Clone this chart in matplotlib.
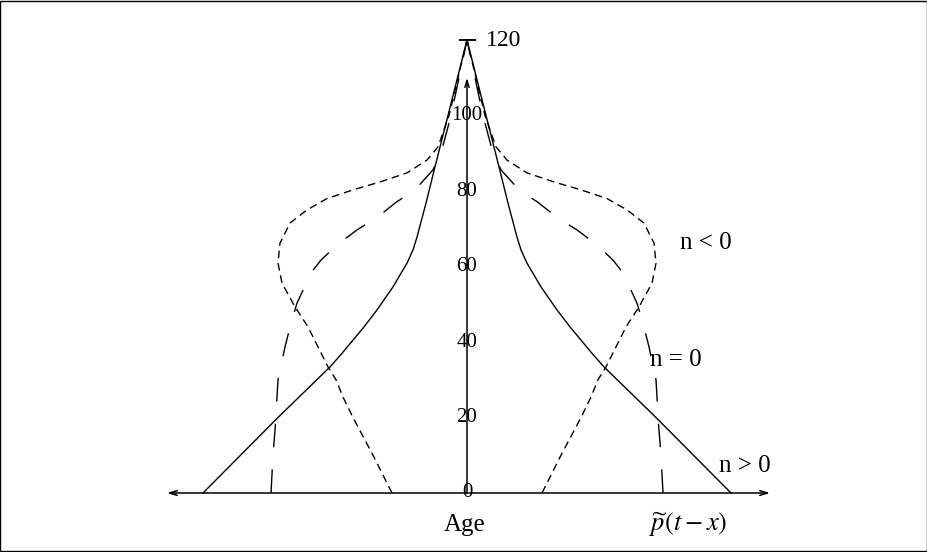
import matplotlib
matplotlib.use("Agg")
import matplotlib.pyplot as plt
from matplotlib.patches import Rectangle

plt.rcParams['font.family'] = ['Liberation Serif', 'DejaVu Serif']
plt.rcParams['mathtext.fontset'] = 'stix'

# curvas: idade -> densidade (unidades arbitrarias, metade direita)
ages_pos = [0, 20, 33.4, 37, 40.5, 44, 48.5, 54.6, 60.9, 64.4, 67.8, 76.8, 86.4, 100, 120]
dens_pos = [264, 189, 137, 125, 114, 103, 90, 74, 60, 54, 50, 41, 32, 19, 0]

ages_zero = [0, 10, 20, 25.4, 30, 38.7, 45, 50.3, 56, 59, 61.7, 65.7, 69.7, 73, 77, 80.3, 85.6, 91, 100, 110, 120]
dens_zero = [196, 194, 191, 190, 189, 182, 176, 170, 160, 154, 146, 130, 110, 90, 71, 52, 34, 25, 16, 8, 0]

ages_neg = [0, 10, 20, 25.4, 30, 33.4, 44, 49.3, 55.6, 60.9, 66.2, 71.5, 75, 78, 80.3, 82.4, 84.8, 88.2, 91.7, 100, 110, 120]
dens_neg = [75, 94, 114, 124, 131, 139, 159, 172, 185, 189, 187, 177, 160, 140, 114, 87, 60, 40, 29, 18, 9, 0]

age_ticks = [0, 20, 40, 60, 80, 100]
curve_labels = ["n < 0", "n = 0", "n > 0"]

fig = plt.figure(figsize=(9.28, 5.52), dpi=100)
ax = fig.add_axes([0, 0, 1, 1])
ax.set_xlim(-467, 461)
ax.set_ylim(-15.63, 130.6)
ax.axis('off')

lw = 1.0
# n > 0 (solida)
ax.plot(dens_pos, ages_pos, color='black', lw=lw)
ax.plot([-d for d in dens_pos], ages_pos, color='black', lw=lw)
# n = 0 (tracejado longo)
ax.plot(dens_zero, ages_zero, color='black', lw=lw, dashes=(17, 16))
ax.plot([-d for d in dens_zero], ages_zero, color='black', lw=lw, dashes=(17, 16))
# n < 0 (tracejado curto)
ax.plot(dens_neg, ages_neg, color='black', lw=lw, dashes=(5.5, 3.5))
ax.plot([-d for d in dens_neg], ages_neg, color='black', lw=lw, dashes=(5.5, 3.5))

# eixos
ax.annotate('', xy=(-300, 0), xytext=(303, 0),
            arrowprops=dict(arrowstyle='<->,head_length=0.55,head_width=0.17',
                            color='black', lw=1.1, shrinkA=0, shrinkB=0))
ax.annotate('', xy=(0, 110), xytext=(0, 0),
            arrowprops=dict(arrowstyle='->,head_length=0.5,head_width=0.15',
                            color='black', lw=1.1, shrinkA=0, shrinkB=0))
ax.plot([-7, 8], [120, 120], color='black', lw=1.4)

for a in age_ticks:
    ax.text(0, a, str(a), ha='center', va='center', fontsize=15)
ax.text(19, 120, "120", ha='left', va='center', fontsize=17)

ax.text(239, 66.2, curve_labels[0], ha='center', va='center', fontsize=18)
ax.text(209, 35.2, curve_labels[1], ha='center', va='center', fontsize=18)
ax.text(278, 7.2, curve_labels[2], ha='center', va='center', fontsize=18)

ax.text(-2, -10.1, "Age", ha='center', va='baseline', fontsize=18)
ax.text(221, -10.1, r'$\widetilde{p}(t-x)$', ha='center', va='baseline', fontsize=19)

fig.patches.append(Rectangle((0.0005, 0.001), 0.998, 0.997, transform=fig.transFigure,
                             fill=False, edgecolor='black', lw=1.0))

fig.savefig("out.png", dpi=100)
